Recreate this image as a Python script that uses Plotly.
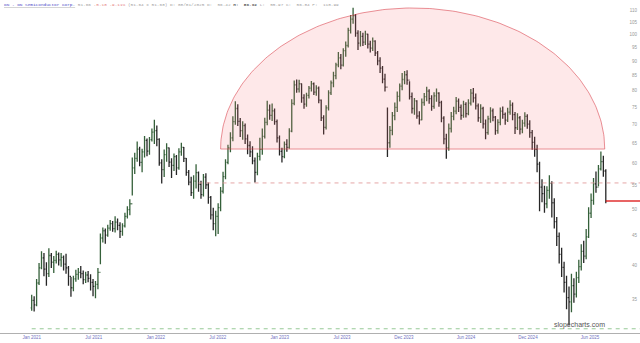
import numpy as np
import pandas as pd
import plotly.graph_objects as go

# ---------------- data (weekly bars) ----------------
FIRST_WEEK = "2021-01-29"
CLOSE = [34.8, 34.2, 37.3, 39.6, 41.2, 39.4, 38.7, 41.6, 40.5, 40.8,
         41.8, 40.9, 41.3, 40.2, 39.6, 38.3, 36.6, 37.9, 38.6, 38.9,
         38.7, 37.8, 38.5, 38.0, 37.4, 36.8, 37.1, 38.9, 44.6, 45.9,
         45.1, 46.4, 47.2, 46.3, 47.5, 46.9, 45.8, 46.8, 48.6, 49.9,
         51.1, 58.9, 61.2, 63.5, 60.2, 62.8, 65.7, 63.0, 65.9, 67.9,
         68.3, 66.0, 60.1, 58.5, 62.1, 63.8, 60.3, 59.5, 61.6, 58.9,
         62.8, 63.9, 61.2, 57.9, 55.7, 53.4, 55.9, 57.8, 55.2, 53.0,
         56.8, 55.1, 52.4, 48.9, 47.2, 48.6, 50.3, 53.7, 56.9, 60.2,
         63.8, 66.4, 70.8, 74.6, 70.9, 68.3, 69.7, 66.1, 64.4, 62.8,
         60.6, 57.9, 61.7, 63.4, 66.8, 70.6, 74.1, 72.6, 73.9, 70.8,
         66.4, 62.9, 61.6, 64.7, 63.9, 68.2, 76.1, 81.9, 80.6, 82.3,
         77.8, 75.9, 78.6, 80.9, 82.3, 79.6, 80.9, 77.1, 71.9, 69.2,
         74.8, 79.4, 82.6, 85.0, 88.7, 91.2, 88.6, 93.9, 95.8, 101.7,
         106.4, 107.9, 100.6, 96.7, 99.3, 97.1, 100.2, 96.3, 94.8, 97.5,
         93.0, 90.1, 87.6, 83.8, 81.2, 65.1, 68.4, 72.5, 74.9, 78.3,
         81.5, 83.7, 85.3, 83.5, 78.2, 74.6, 76.9, 72.4, 71.3, 76.4,
         78.2, 79.9, 77.6, 75.2, 78.4, 79.3, 76.4, 71.8, 66.1, 63.8,
         68.9, 72.3, 73.8, 76.8, 74.9, 72.6, 75.8, 73.1, 76.2, 79.3,
         77.8, 75.4, 71.9, 74.6, 70.2, 67.8, 71.6, 73.9, 72.1, 68.3,
         70.6, 73.8, 72.9, 71.2, 73.5, 75.6, 72.8, 69.1, 71.9, 68.7,
         70.4, 72.3, 70.1, 67.8, 65.2, 63.4, 59.8, 54.6, 53.2, 51.1,
         53.9, 55.4, 51.3, 47.6, 44.9, 41.8, 39.7, 37.4, 35.2, 34.6,
         36.9, 35.7, 38.1, 39.8, 42.3, 41.5, 44.8, 49.2, 51.8, 55.3,
         54.6, 58.7, 60.4, 58.2, 51.66]
HIGH = [35.6, 35.4, 37.9, 40.4, 42.3, 42.0, 40.5, 42.8, 42.0, 41.5,
        42.4, 42.1, 42.0, 41.6, 41.9, 39.9, 38.2, 38.4, 39.3, 39.6,
        39.9, 39.2, 39.0, 39.1, 38.6, 37.9, 37.6, 39.6, 45.4, 46.5,
        46.3, 47.0, 47.9, 47.7, 48.6, 48.2, 47.5, 47.3, 49.3, 50.6,
        52.0, 61.4, 62.6, 65.4, 64.1, 63.6, 66.9, 66.2, 66.6, 68.9,
        71.3, 69.7, 66.3, 61.0, 63.4, 65.0, 63.9, 61.2, 62.4, 62.0,
        63.7, 65.1, 64.0, 61.3, 58.4, 56.9, 57.2, 59.8, 58.1, 56.0,
        57.5, 57.7, 55.6, 52.7, 50.3, 49.7, 51.2, 54.6, 58.0, 61.0,
        64.6, 67.9, 72.3, 76.8, 75.9, 71.8, 70.9, 70.3, 67.3, 65.5,
        64.2, 61.4, 62.6, 66.4, 68.9, 71.9, 76.9, 75.8, 76.1, 74.6,
        71.4, 67.0, 63.8, 65.4, 66.0, 69.0, 77.4, 83.4, 83.7, 83.6,
        82.4, 78.9, 79.4, 81.6, 83.2, 82.7, 81.8, 81.4, 77.3, 72.6,
        75.6, 80.2, 83.4, 86.3, 89.5, 93.4, 92.6, 94.8, 97.3, 102.8,
        108.1, 111.3, 108.6, 101.8, 101.5, 100.8, 101.6, 100.4, 97.6, 98.9,
        97.8, 93.7, 91.4, 88.3, 85.6, 74.9, 69.6, 73.6, 76.4, 79.8,
        82.4, 85.9, 86.6, 86.8, 83.1, 79.5, 77.8, 77.1, 73.8, 77.6,
        79.3, 81.3, 80.5, 78.6, 79.6, 80.8, 79.6, 76.9, 72.3, 67.5,
        70.3, 73.6, 75.1, 78.1, 77.6, 75.8, 76.9, 76.5, 77.4, 80.6,
        80.9, 79.2, 76.1, 75.9, 75.1, 71.4, 72.5, 75.0, 74.6, 72.4,
        71.5, 74.9, 75.2, 73.4, 74.8, 77.1, 76.4, 73.6, 73.2, 72.4,
        71.3, 73.5, 72.9, 71.2, 68.5, 66.7, 64.6, 60.4, 56.3, 54.9,
        54.8, 57.2, 55.9, 52.2, 48.5, 45.6, 42.9, 40.6, 38.4, 36.8,
        38.7, 38.0, 39.0, 40.9, 43.5, 44.1, 46.2, 50.4, 53.2, 56.6,
        58.1, 59.6, 62.9, 61.8, 58.6]
LOW = [33.4, 33.3, 34.0, 37.0, 39.4, 38.3, 36.9, 38.2, 39.6, 38.8,
       40.3, 40.0, 39.8, 39.2, 38.7, 36.9, 35.3, 36.1, 37.5, 37.8,
       38.0, 37.1, 37.3, 37.4, 36.2, 35.4, 35.1, 36.4, 40.2, 43.8,
       43.6, 44.8, 45.9, 45.7, 45.6, 46.0, 44.6, 45.0, 46.5, 48.2,
       48.8, 52.8, 57.5, 60.4, 59.3, 57.9, 61.4, 61.7, 62.1, 65.4,
       64.8, 64.2, 59.4, 55.4, 56.8, 60.4, 59.1, 56.6, 58.2, 57.3,
       58.5, 61.8, 60.3, 57.1, 55.0, 52.7, 52.1, 54.3, 53.6, 52.1,
       52.6, 54.2, 51.1, 48.0, 46.0, 44.9, 45.3, 49.6, 53.2, 56.3,
       59.8, 62.7, 65.5, 69.9, 69.6, 66.6, 65.9, 64.8, 62.2, 61.5,
       59.8, 55.6, 57.2, 60.7, 62.1, 66.2, 69.8, 71.3, 71.0, 69.9,
       65.2, 61.9, 60.2, 61.2, 62.8, 63.6, 67.9, 75.6, 79.4, 79.5,
       76.3, 74.5, 75.1, 77.6, 79.8, 78.7, 78.5, 76.2, 71.0, 67.3,
       68.6, 74.0, 78.7, 81.2, 83.8, 87.9, 87.2, 88.1, 91.6, 95.0,
       100.5, 104.4, 99.2, 94.1, 95.4, 95.6, 96.0, 94.7, 93.2, 93.7,
       91.9, 88.6, 85.9, 82.5, 79.8, 61.5, 63.8, 67.1, 71.2, 73.6,
       76.7, 80.2, 82.1, 82.0, 77.3, 73.1, 72.8, 71.6, 70.0, 71.2,
       75.4, 76.8, 76.0, 73.9, 74.5, 76.6, 75.1, 70.6, 64.7, 61.1,
       63.1, 67.8, 71.2, 72.9, 73.6, 71.3, 71.9, 72.0, 72.6, 75.5,
       76.4, 74.3, 70.8, 70.4, 68.9, 66.0, 67.2, 70.5, 70.9, 67.2,
       67.5, 69.8, 71.6, 69.9, 70.7, 72.8, 71.2, 67.4, 68.5, 67.3,
       67.6, 69.4, 68.8, 66.4, 63.3, 61.6, 57.9, 49.6, 51.4, 49.3,
       50.2, 52.1, 48.4, 46.3, 43.2, 40.3, 38.2, 35.9, 33.6, 31.5,
       33.2, 34.5, 35.2, 37.3, 39.2, 40.4, 41.0, 44.6, 48.3, 50.9,
       53.4, 54.8, 58.3, 56.9, 51.2]
FIRST_OPEN = 33.8

TICK_DATES = ["2021-01-29", "2021-07-25", "2022-01-18", "2022-07-14", "2023-01-07",
              "2023-07-03", "2023-12-27", "2024-06-21", "2024-12-15", "2025-06-10"]
TICK_LABELS = ["Jan 2021", "Jul 2021", "Jan 2022", "Jul 2022", "Jan 2023",
               "Jul 2023", "Dec 2023", "Jun 2024", "Dec 2024", "Jun 2025"]
PRICE_TICKS = [110, 105, 100, 95, 90, 85, 80, 75, 70, 65, 60, 55, 50, 45, 40, 35]

X_RANGE = ["2020-10-30 14:00", "2025-10-30 14:00"]
Y_RANGE = [30.58, 114.78]

ARC_START, ARC_END = "2022-07-22", "2025-07-22"
ARC_BASE, ARC_TOP = 63.5, 111.2
LEVEL_DASH_PINK = 55.5
LEVEL_DASH_PINK_START = "2022-05-20"
LEVEL_DASH_GREEN = 31.1
LAST_PRICE = 51.66

HEADER = ("<u><span style='color:#4b4bc8'>ON - ON Semiconductor Corp.</span></u>"
          " <span style='color:#a0a0a0'>51.66</span>"
          " <span style='color:#e58080'>-5.18 -9.11%</span>"
          " <span style='color:#a0a0a0'>(51.64 x 51.68) D: 08/01/2025 O:  56.42</span>"
          " <b><span style='color:#666'>H:  56.92</span></b>"
          " <span style='color:#a0a0a0'>L:  55.97 C:  56.84 P:  110.99</span>")

# ---------------- build ----------------
dates = pd.date_range(FIRST_WEEK, periods=len(CLOSE), freq="7D")
opens = [FIRST_OPEN] + CLOSE[:-1]

fig = go.Figure()

# semicircle (upper half of an ellipse in screen space on the log axis)
t = np.linspace(0, np.pi, 181)
x0 = pd.Timestamp(ARC_START).value
x1 = pd.Timestamp(ARC_END).value
cx, hw = (x0 + x1) / 2, (x1 - x0) / 2
lb, lt = np.log10(ARC_BASE), np.log10(ARC_TOP)
arc_x = pd.to_datetime(cx + hw * np.cos(t))
arc_y = 10 ** (lb + (lt - lb) * np.sin(t))
fig.add_trace(go.Scatter(x=list(arc_x) + [arc_x[0]], y=list(arc_y) + [arc_y[0]],
                         mode="lines", fill="toself",
                         fillcolor="rgba(250,110,120,0.16)",
                         line=dict(color="rgba(215,60,70,0.8)", width=0.7),
                         hoverinfo="skip", showlegend=False))

# horizontal levels
fig.add_trace(go.Scatter(x=[LEVEL_DASH_PINK_START, X_RANGE[1]], y=[LEVEL_DASH_PINK] * 2,
                         mode="lines", line=dict(color="rgba(225,150,150,0.85)", width=1, dash="4px,4px"),
                         hoverinfo="skip", showlegend=False))
fig.add_trace(go.Scatter(x=[dates[0], X_RANGE[1]], y=[LEVEL_DASH_GREEN] * 2,
                         mode="lines", line=dict(color="rgba(140,195,140,0.9)", width=1, dash="4px,4px"),
                         hoverinfo="skip", showlegend=False))
fig.add_trace(go.Scatter(x=[dates[-1], X_RANGE[1]], y=[LAST_PRICE] * 2,
                         mode="lines", line=dict(color="#e03030", width=1.3),
                         hoverinfo="skip", showlegend=False))

fig.add_trace(go.Ohlc(x=dates, open=opens, high=HIGH, low=LOW, close=CLOSE,
                      increasing=dict(line=dict(color="#35603a", width=1.3)),
                      decreasing=dict(line=dict(color="#262626", width=1.3)),
                      tickwidth=0.4, showlegend=False))

fig.update_layout(
    width=640, height=343,
    margin=dict(l=0, r=0, t=0, b=10),
    paper_bgcolor="white", plot_bgcolor="white",
    showlegend=False,
    xaxis=dict(type="date", range=X_RANGE, rangeslider=dict(visible=False),
               tickvals=TICK_DATES, ticktext=TICK_LABELS,
               showgrid=False, zeroline=False, showline=True, linecolor="#b0b0b0", linewidth=1,
               ticks="", tickfont=dict(size=4.5, color="#7070c0", family="Liberation Sans")),
    yaxis=dict(type="log", range=[np.log10(Y_RANGE[0]), np.log10(Y_RANGE[1])],
               side="right", ticklabelposition="inside",
               tickvals=PRICE_TICKS, ticktext=[str(v) for v in PRICE_TICKS],
               showgrid=False, zeroline=False, showline=False, ticks="",
               tickfont=dict(size=4.5, color="#999999", family="Liberation Sans")),
    annotations=[
        dict(text=HEADER, xref="paper", yref="paper", x=0.003, y=1.0, xanchor="left", yanchor="top",
             showarrow=False, font=dict(size=4.4, family="Liberation Mono", color="#a0a0a0")),
        dict(text="slopecharts.com", xref="paper", yref="paper", x=0.949, y=0.0, xanchor="right",
             yanchor="bottom", yshift=2, showarrow=False,
             font=dict(size=7, family="Liberation Sans", color="#555")),
    ],
)

fig.write_html("out.html")
